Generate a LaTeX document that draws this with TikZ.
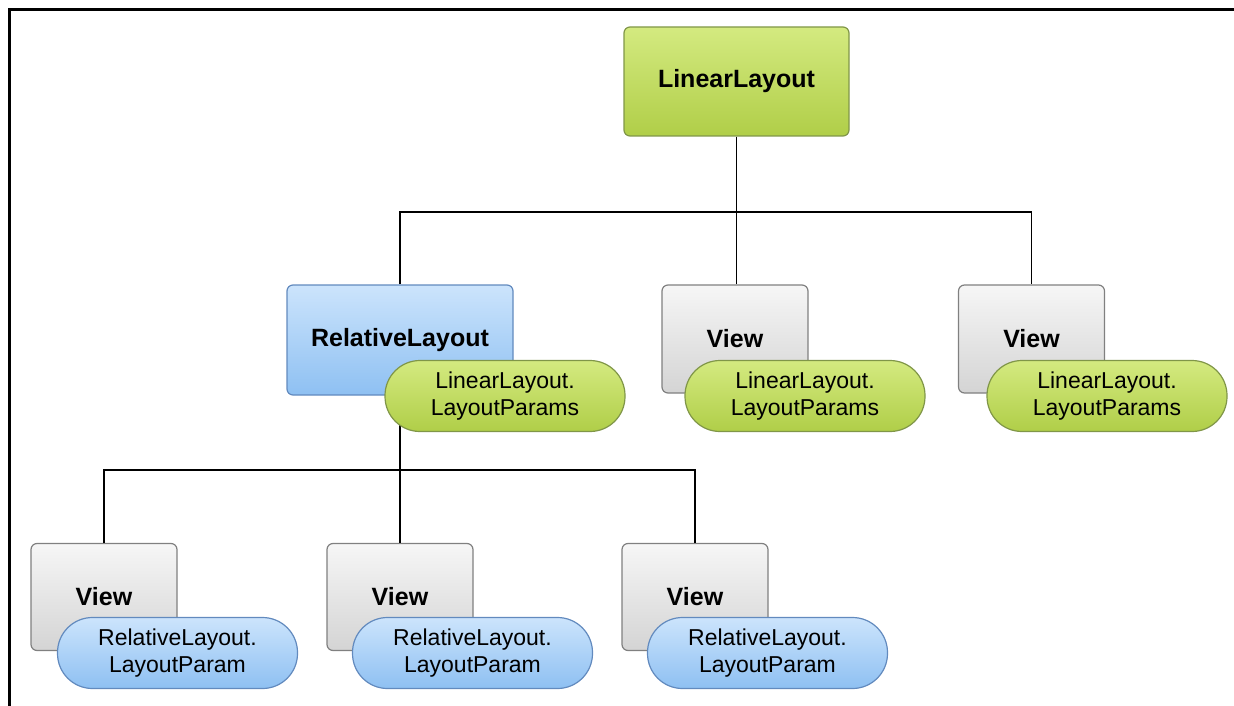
\documentclass[tikz,border=0pt]{standalone}
\usepackage{fontspec}
\setmainfont{Liberation Sans}
\usetikzlibrary{calc}

\definecolor{greentop}{RGB}{212,234,128}
\definecolor{greenbot}{RGB}{176,206,72}
\definecolor{greenline}{RGB}{128,150,72}
\definecolor{bluetop}{RGB}{204,228,252}
\definecolor{bluebot}{RGB}{142,192,242}
\definecolor{blueline}{RGB}{98,138,190}
\definecolor{graytop}{RGB}{246,246,246}
\definecolor{graybot}{RGB}{212,212,212}
\definecolor{grayline}{RGB}{128,128,128}

\tikzset{
  box/.style={draw, line width=1.2pt, rounded corners=6pt, inner sep=0pt,
              font=\fontsize{25}{30}\selectfont\bfseries},
  greenbox/.style={box, draw=greenline, top color=greentop, bottom color=greenbot},
  bluebox/.style={box, draw=blueline, top color=bluetop, bottom color=bluebot},
  graybox/.style={box, draw=grayline, top color=graytop, bottom color=graybot,
                  minimum width=146pt, minimum height=107pt},
  param/.style={draw, line width=1.2pt, rounded corners=35pt, inner sep=0pt,
                minimum width=240pt, minimum height=71pt, align=center,
                font=\fontsize{23}{27}\selectfont},
  greenparam/.style={param, draw=greenline, top color=greentop, bottom color=greenbot},
  blueparam/.style={param, draw=blueline, top color=bluetop, bottom color=bluebot},
  link/.style={line width=1.2pt}
}

\begin{document}
\begin{tikzpicture}[x=1pt,y=-1pt]
\useasboundingbox (0,0) rectangle (1234,706);
% Frame
\draw[line width=3pt] (1234,9.5) -- (9.5,9.5) -- (9.5,706);
% Coordinates
\coordinate (busA) at (0,212);
\coordinate (busB) at (0,470);
% Boxes
\node[greenbox, minimum width=225pt, minimum height=109pt] (root) at (736.5,81.5) {LinearLayout};
\node[bluebox, minimum width=226pt, minimum height=110pt] (rel) at (400,340) {RelativeLayout};
\node[graybox, minimum height=108pt] (viewA) at (735,339) {View};
\node[graybox, minimum height=108pt] (viewB) at (1031.5,339) {View};
\node[graybox] (viewC) at (104,597) {View};
\node[graybox] (viewD) at (400,597) {View};
\node[graybox] (viewE) at (695,597) {View};
% Connectors
\draw[link] (root.south) -- (root.south |- busA);
\draw[link] (rel.north) -- (rel.north |- busA) -| (viewB.north);
\draw[link] (viewA.north -| root.south) -- (root.south |- busA);
\draw[link] (rel.south) -- (rel.south |- busB) -| (viewE.north);
\draw[link] (viewC.north) -- (viewC.north |- busB) -- (rel.south |- busB);
\draw[link] (rel.south |- busB) -- (viewD.north);
% Layout params
\node[greenparam] (lpA) at (505,396) {LinearLayout.\\LayoutParams};
\node[greenparam] (lpB) at (805,396) {LinearLayout.\\LayoutParams};
\node[greenparam] (lpC) at (1107,396) {LinearLayout.\\LayoutParams};
\node[blueparam] (rpC) at (177.5,653) {RelativeLayout.\\LayoutParam};
\node[blueparam] (rpD) at (472.5,653) {RelativeLayout.\\LayoutParam};
\node[blueparam] (rpE) at (767.5,653) {RelativeLayout.\\LayoutParam};
\end{tikzpicture}
\end{document}
